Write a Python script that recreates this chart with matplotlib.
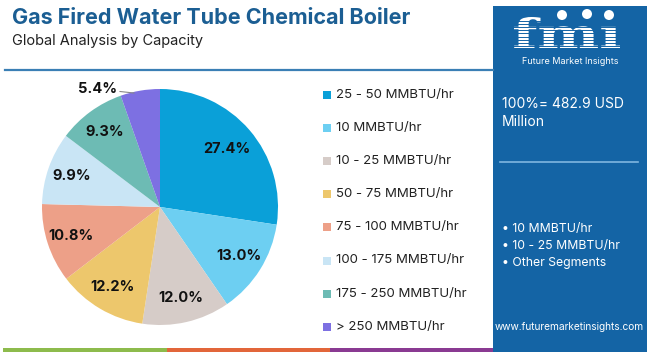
import matplotlib
matplotlib.use("Agg")
import matplotlib.pyplot as plt
from matplotlib.patches import Rectangle, PathPatch, Ellipse
from matplotlib.textpath import TextPath
from matplotlib.font_manager import FontProperties
from matplotlib.transforms import Affine2D
import numpy as np

title = "Gas Fired Water Tube Chemical Boiler"
subtitle = "Global Analysis by Capacity"
categories = ["25 - 50 MMBTU/hr", "10 MMBTU/hr", "10 - 25 MMBTU/hr", "50 - 75 MMBTU/hr",
              "75 - 100 MMBTU/hr", "100 - 175 MMBTU/hr", "175 - 250 MMBTU/hr", "> 250 MMBTU/hr"]
shares = [27.4, 13.0, 12.0, 12.2, 10.8, 9.9, 9.3, 5.4]
colors = ["#0aa0d8", "#6dcff2", "#d6ccc8", "#edc76c", "#eda088", "#c9e5f5", "#6dbbb4", "#7d70e2"]
total_text = "100%= 482.9 USD\nMillion"
bullets = ["10 MMBTU/hr", "10 - 25 MMBTU/hr", "Other Segments"]
url = "www.futuremarketinsights.com"

W, H = 650, 352
fig = plt.figure(figsize=(6.5, 3.52), dpi=100)
fig.patch.set_facecolor("white")

def fx(px):
    return px / W

def fy(py):
    return 1 - py / H

FONT = "Inter"
blue = "#1b5e93"
panel = "#1464a5"

# Title
fig.text(fx(12), fy(18), title, fontsize=15.5, fontweight="bold", color=blue,
         family=FONT, va="center", ha="left")
fig.text(fx(12), fy(41), subtitle, fontsize=10.5, color="#222222",
         family=FONT, va="center", ha="left")
# header rule
fig.add_artist(plt.Line2D([fx(5), fx(493)], [fy(70), fy(70)], color="#3a7fb5", lw=1.6))

# bottom strips
for x0, x1, c in [(3, 167, "#8dbb4c"), (167, 330, "#e2663a"), (330, 493, "#8a3a92")]:
    fig.add_artist(Rectangle((fx(x0), 0), fx(x1 - x0), 4 / H, color=c, transform=fig.transFigure, lw=0))

# right panel
fig.add_artist(Rectangle((fx(493), 0), fx(647 - 493), fy(6), color=panel,
                         transform=fig.transFigure, lw=0))
# logo "fmi" stretched
tp = TextPath((0, 0), "fmı", size=1, prop=FontProperties(family="DejaVu Serif", weight="bold"))
ext = tp.get_extents()
sx = fx(106) / ext.width
sy = (31 / H) / ext.height
tr = Affine2D().translate(-ext.x0, -ext.y0).scale(sx, sy).translate(fx(514), fy(48))
fig.add_artist(PathPatch(tr.transform_path(tp), facecolor="white", lw=0,
                         transform=fig.transFigure))
for yy in np.arange(20.5, 48, 3.2):
    fig.add_artist(plt.Line2D([fx(510), fx(625)], [fy(yy), fy(yy)], color=panel, lw=0.7))
for (ix, iy) in [(562, 15), (587, 14), (609, 15)]:
    fig.add_artist(Ellipse((fx(ix), fy(iy)), fx(10), 10 / H, facecolor="white",
                           lw=0, transform=fig.transFigure))
fig.text(fx(570), fy(62), "Future Market Insights", fontsize=6.5, color="white",
         family=FONT, ha="center", va="center")
fig.text(fx(502), fy(113), total_text, fontsize=10, color="white", family=FONT,
         ha="left", va="center", linespacing=1.45)
fig.add_artist(plt.Line2D([fx(500), fx(638)], [fy(162), fy(162)], color="#7fb6e0", lw=1.2))
for i, b in enumerate(bullets):
    fig.text(fx(502), fy(229 + i * 17), "\u2022 " + b, fontsize=8.8, color="white",
             family=FONT, ha="left", va="center")
fig.text(fx(569), fy(327), url, fontsize=7.3, color="white", family=FONT,
         ha="center", va="center")

# pie
cx, cy, R = 160, 207, 118
half = 121
ax = fig.add_axes([fx(cx - half), fy(cy + half), fx(2 * half), 2 * half / H])
wedges, _ = ax.pie(shares, colors=colors, startangle=90, counterclock=False,
                   radius=1.0, wedgeprops=dict(linewidth=0))
ax.set_xlim(-half / R, half / R)
ax.set_ylim(-half / R, half / R)
ax.set_aspect("equal")
ax.axis("off")

for i, (s, w) in enumerate(zip(shares, wedges)):
    mid = np.deg2rad((w.theta1 + w.theta2) / 2)
    lbl = f"{s:.1f}%"
    if s < 7:
        ex, ey = np.cos(mid) * 1.0, np.sin(mid) * 1.0
        ax.annotate(lbl, xy=(ex - 0.05, ey - 0.02), xytext=(-0.53, 1.0),
                    fontsize=10.5, fontweight="bold", family=FONT, color="#111111",
                    ha="center", va="center",
                    arrowprops=dict(arrowstyle="-", color="#888888", lw=0.8,
                                    shrinkA=14, shrinkB=0))
    else:
        d = 0.75 if s > 20 else 0.79
        ax.text(np.cos(mid) * d, np.sin(mid) * d, lbl, fontsize=10.5, fontweight="bold",
                family=FONT, color="#111111", ha="center", va="center")

# legend
for i, (lab, c) in enumerate(zip(categories, colors)):
    y = 95 + i * 33.1
    fig.add_artist(Rectangle((fx(323), fy(y + 4)), fx(8), 8 / H, color=c,
                             transform=fig.transFigure, lw=0))
    fig.text(fx(336), fy(y), lab, fontsize=9.5, color="#222222", family=FONT,
             ha="left", va="center")

fig.savefig("out.png", dpi=100, facecolor="white")
